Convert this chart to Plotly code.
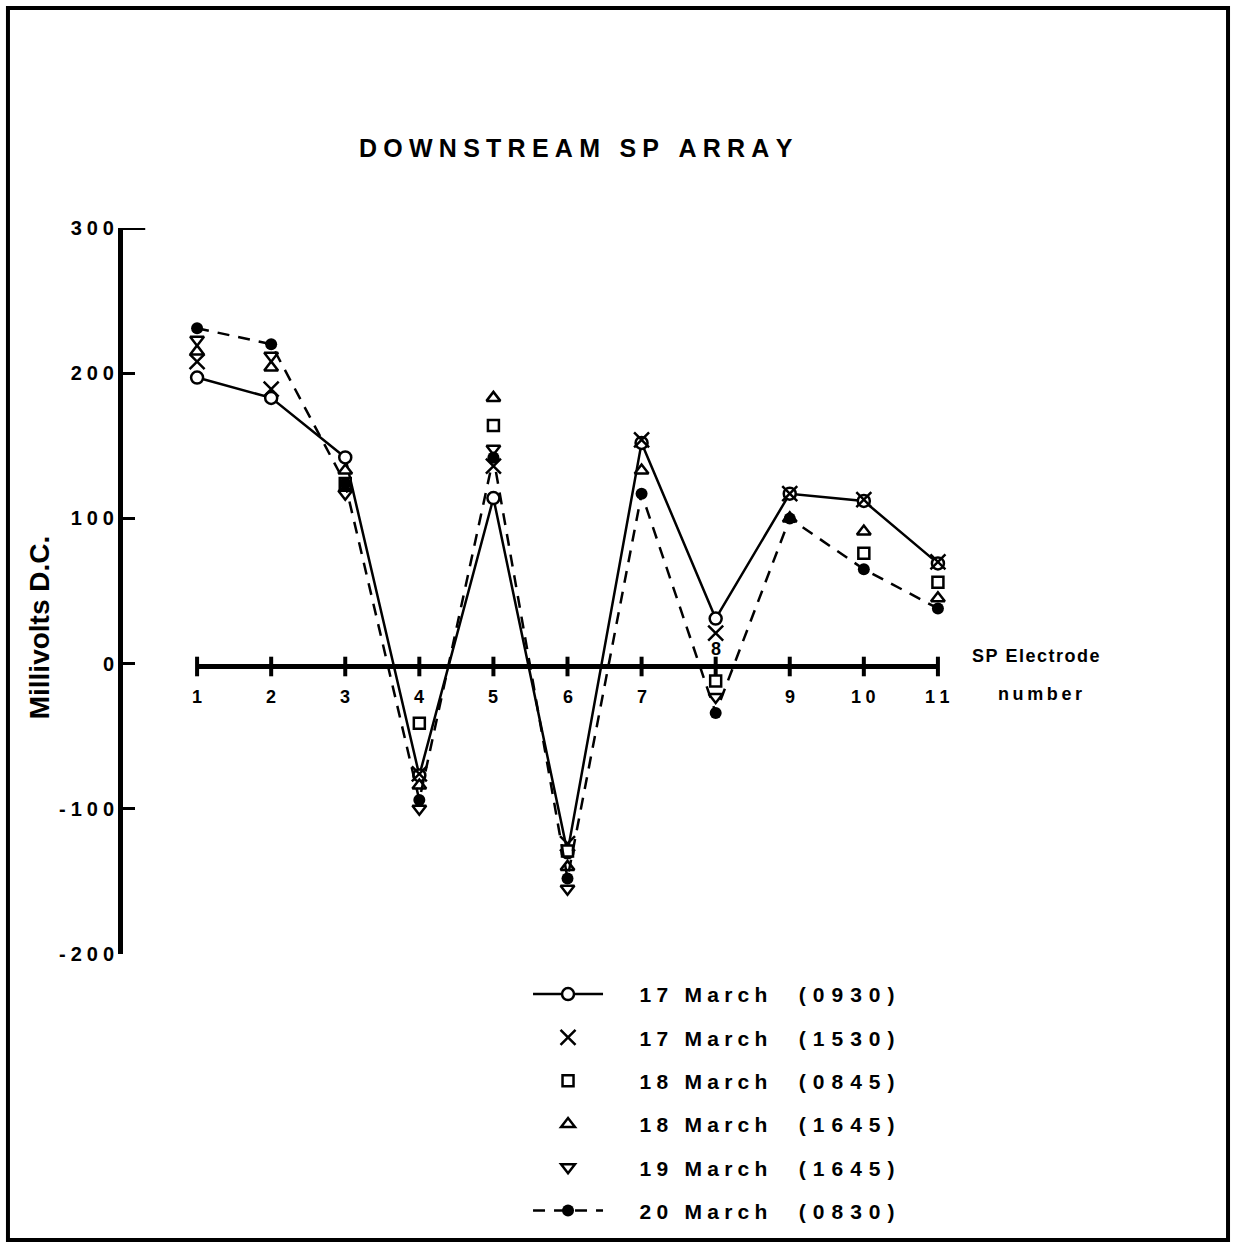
import plotly.graph_objects as go

# ---------------- data ----------------
electrode = [1, 2, 3, 4, 5, 6, 7, 8, 9, 10, 11]
tick_labels = ["1", "2", "3", "4", "5", "6", "7", "8", "9", "10", "11"]
y_ticks = [-200, -100, 0, 100, 200, 300]
y_tick_labels = ["-200", "-100", "0", "100", "200", "300"]

mar17_0930 = [197, 183, 142, -77, 114, -130, 152, 31, 117, 112, 69]
mar17_1530 = [208, 189, None, -76, 136, -124, 154, 21, 117, 113, 70]
mar18_0845 = [None, None, 124, -41, 164, -129, None, -12, None, 76, 56]
mar18_1645 = [215, 204, 133, -84, 183, -140, 133, None, 100, 91, 45]
mar19_1645 = [223, 212, 117, -100, 148, -155, None, -23, None, None, None]
mar20_0830 = [231, 220, 124, -94, 142, -148, 117, -34, 100, 65, 38]

series_names = ["17 March", "17 March", "18 March", "18 March", "19 March", "20 March"]
series_times = ["(0930)", "(1530)", "(0845)", "(1645)", "(1645)", "(0830)"]

FONT = "Liberation Sans"


def spaced(s, sep):
    return sep.join(s)


def legend_name(day, time):
    return ("\u2003\u2002" + spaced(day, "\u2005") + "\u2003\u2002"
            + spaced(time, "\u2004"))


fig = go.Figure()

# x axis drawn as a heavy line with tick marks at every electrode
fig.add_trace(go.Scatter(
    x=electrode, y=[-2] * len(electrode), mode="lines+markers",
    line=dict(color="black", width=5),
    marker=dict(symbol="line-ns", size=14, line=dict(color="black", width=4)),
    showlegend=False, hoverinfo="skip", cliponaxis=False))

W = 2.5
fig.add_trace(go.Scatter(
    x=electrode, y=mar17_0930, mode="lines+markers",
    name=legend_name(series_names[0], series_times[0]), legendgroup="a",
    line=dict(color="black", width=W),
    marker=dict(symbol="circle", size=12, color="white", line=dict(color="black", width=W)),
    cliponaxis=False))
fig.add_trace(go.Scatter(
    x=electrode, y=mar17_1530, mode="markers",
    name=legend_name(series_names[1], series_times[1]), legendgroup="b",
    marker=dict(symbol="x-thin", size=15, color="black", line=dict(color="black", width=W)),
    cliponaxis=False))
fig.add_trace(go.Scatter(
    x=electrode, y=mar18_0845, mode="markers",
    name=legend_name(series_names[2], series_times[2]), legendgroup="c",
    marker=dict(symbol="square", size=11, color="white", line=dict(color="black", width=W)),
    cliponaxis=False))
fig.add_trace(go.Scatter(
    x=electrode, y=mar18_1645, mode="markers",
    name=legend_name(series_names[3], series_times[3]), legendgroup="d",
    marker=dict(symbol="triangle-up", size=12, color="white", line=dict(color="black", width=W)),
    cliponaxis=False))
fig.add_trace(go.Scatter(
    x=electrode, y=mar19_1645, mode="markers",
    name=legend_name(series_names[4], series_times[4]), legendgroup="e",
    marker=dict(symbol="triangle-down", size=12, color="white", line=dict(color="black", width=W)),
    cliponaxis=False))
fig.add_trace(go.Scatter(
    x=electrode, y=mar20_0830, mode="lines+markers",
    name=legend_name(series_names[5], series_times[5]), legendgroup="f",
    line=dict(color="black", width=W, dash="12px,9px"),
    marker=dict(symbol="circle", size=12, color="black"),
    cliponaxis=False))

annotations = []
# electrode labels
for xv, lab in zip(electrode, tick_labels):
    if lab == "8":
        annotations.append(dict(x=xv, y=10, xref="x", yref="y", text=lab, showarrow=False,
                                font=dict(family=FONT, size=18, color="black", weight="bold")))
    else:
        annotations.append(dict(x=xv, y=-23, xref="x", yref="y", text=spaced(lab, "\u2005"),
                                showarrow=False,
                                font=dict(family=FONT, size=18, color="black", weight="bold")))

annotations += [
    dict(x=0.5096, y=1.110, xref="paper", yref="paper", xanchor="center", yanchor="middle",
         text=spaced("DOWNSTREAM SP ARRAY", "\u2005"),
         showarrow=False, font=dict(family=FONT, size=25, color="black", weight="bold")),
    dict(x=-0.0945, y=0.450, xref="paper", yref="paper", xanchor="center", yanchor="middle",
         text="Millivolts D.C.", textangle=-90,
         showarrow=False, font=dict(family=FONT, size=28, color="black", weight="bold")),
    dict(x=11.43, y=5.5, xref="x", yref="y", xanchor="left", text=spaced("SP Electrode", "\u200a"),
         showarrow=False, font=dict(family=FONT, size=18, color="black", weight="bold")),
    dict(x=11.78, y=-21, xref="x", yref="y", xanchor="left", text=spaced("number", "\u2009"),
         showarrow=False, font=dict(family=FONT, size=18, color="black", weight="bold")),
]

shapes = [
    # page frame
    dict(type="rect", xref="paper", yref="paper", x0=-0.1294, x1=1.2430, y0=-0.3939, y1=1.3030,
         line=dict(color="black", width=4)),
    # longer top tick at 300
    dict(type="line", xref="paper", yref="y", x0=0, x1=0.025, y0=300, y1=300,
         line=dict(color="black", width=4)),
]

fig.update_layout(
    width=1233, height=1248,
    margin=dict(l=123, r=221, t=228, b=294, autoexpand=False),
    paper_bgcolor="white", plot_bgcolor="white",
    font=dict(family=FONT, color="black"),
    xaxis=dict(range=[0, 12], visible=False),
    yaxis=dict(range=[-200, 300], showgrid=False, zeroline=False, showline=True,
               linewidth=5, linecolor="black", ticks="inside", ticklen=12, tickwidth=3,
               tickcolor="black", tickvals=y_ticks,
               ticktext=[spaced(t, "\u2005") for t in y_tick_labels],
               tickfont=dict(family=FONT, size=20, color="black", weight="bold")),
    showlegend=True,
    legend=dict(x=0.4556, y=-0.0275, xanchor="left", yanchor="top", tracegroupgap=13,
                itemwidth=70,
                font=dict(family=FONT, size=21, color="black", weight="bold"),
                bgcolor="rgba(0,0,0,0)"),
    annotations=annotations,
    shapes=shapes,
)

fig.write_html("out.html")
